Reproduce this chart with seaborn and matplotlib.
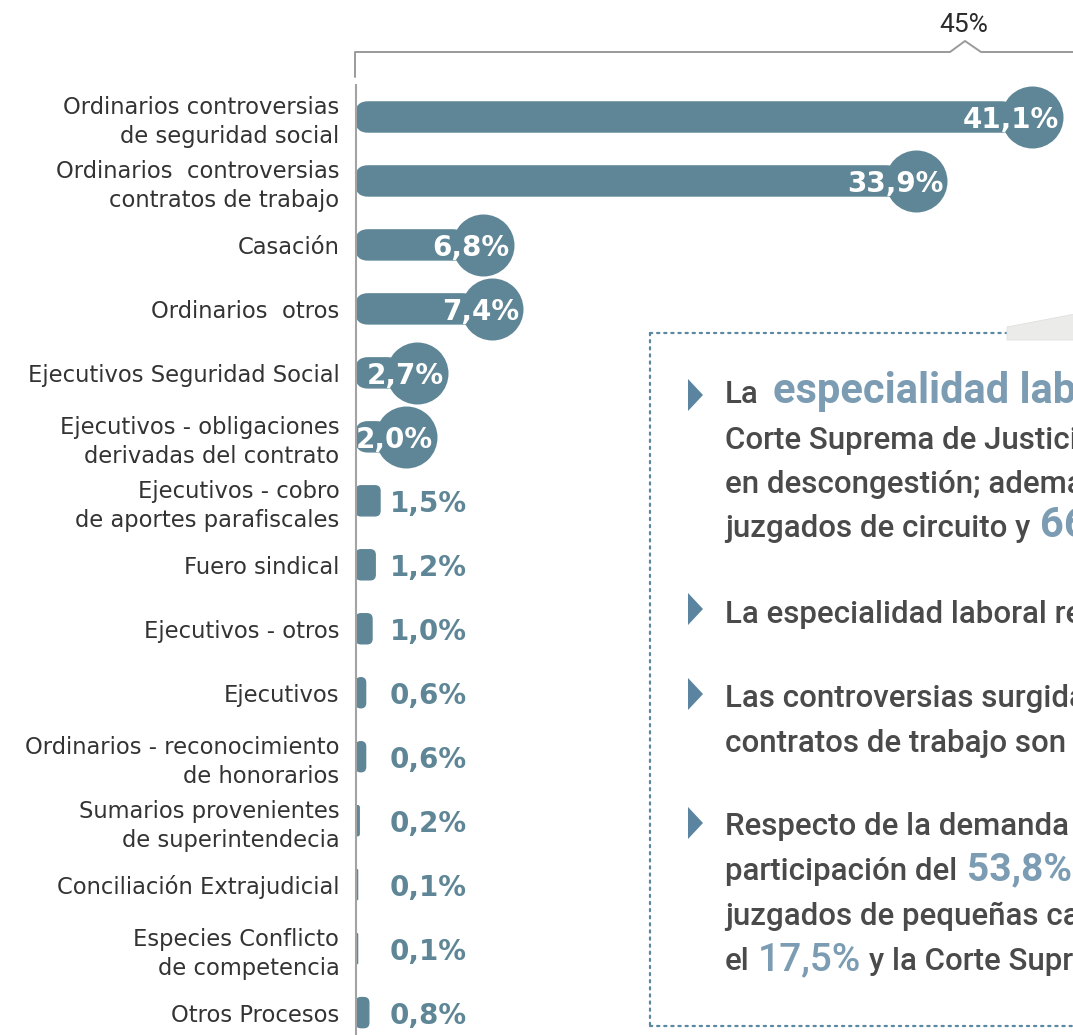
import numpy as np
import pandas as pd
import matplotlib
matplotlib.use("Agg")
import matplotlib.pyplot as plt
import seaborn as sns
from matplotlib.patches import FancyBboxPatch, Polygon, Rectangle
from matplotlib.lines import Line2D
from matplotlib.transforms import ScaledTranslation

# ---------------- data ----------------
categories = [
    "Ordinarios controversias\nde seguridad social",
    "Ordinarios  controversias\ncontratos de trabajo",
    "Casación",
    "Ordinarios  otros",
    "Ejecutivos Seguridad Social",
    "Ejecutivos - obligaciones\nderivadas del contrato",
    "Ejecutivos - cobro\nde aportes parafiscales",
    "Fuero sindical",
    "Ejecutivos - otros",
    "Ejecutivos",
    "Ordinarios - reconocimiento\nde honorarios",
    "Sumarios provenientes\nde superintendecia",
    "Conciliación Extrajudicial",
    "Especies Conflicto\nde competencia",
    "Otros Procesos",
]
values = [41.1, 33.9, 6.8, 7.4, 2.7, 2.0, 1.5, 1.2, 1.0, 0.6, 0.6, 0.2, 0.1, 0.1, 0.8]
axis_mark_label = "45%"

# ---------------- style ----------------
BAR = "#5e8696"
TEAL_TXT = "#7b9cb2"
DARK = "#4a4a4a"
LABEL = "#333333"
BULLET = "#5b84a0"

W, H = 1073, 1035
sns.set_theme(style="white")
plt.rcParams["font.family"] = ["DejaVu Sans"]

fig = plt.figure(figsize=(W / 100, H / 100), dpi=100)
fig.patch.set_facecolor("white")

def fx(px):
    return px / W

def fy(py):
    return 1 - py / H

ax = fig.add_axes([fx(356), 0, (W - 356) / W, 950 / H])

df = pd.DataFrame({"category": categories, "value": values})
sns.barplot(data=df, x="value", y="category", orient="h", color=BAR,
            saturation=1, width=0.47, ax=ax)

ax.set_xlim(0, (W - 356) / 16.0)
ax.set_ylim(14.35, -0.5)
ax.set_xlabel("")
ax.set_ylabel("")
ax.set_xticks([])
for s in ["top", "right", "bottom"]:
    ax.spines[s].set_visible(False)
ax.spines["left"].set_color("#a3a3a3")
ax.spines["left"].set_linewidth(1.5)
ax.tick_params(axis="y", length=0, pad=12, labelsize=16.3, labelcolor=LABEL)
for t in ax.get_yticklabels():
    t.set_linespacing(1.3)

# rounded bars
px_x = ax.transData.transform((1, 0))[0] - ax.transData.transform((0, 0))[0]
px_y = abs(ax.transData.transform((0, 1))[1] - ax.transData.transform((0, 0))[1])
aspect = px_x / px_y
patches = list(ax.patches)
for p, v in zip(patches, values):
    x0, y0, w, h = p.get_x(), p.get_y(), p.get_width(), p.get_height()
    r_px = 12 if v >= 2 else 5
    r = min(r_px / px_x, w / 2 * 0.999)
    p.remove()
    fb = FancyBboxPatch((x0, y0), w, h,
                        boxstyle=f"round,pad=0,rounding_size={r}",
                        mutation_aspect=aspect, fc=BAR, ec=BAR, lw=1.0, zorder=2)
    ax.add_patch(fb)

# circles + labels
big_idx = [i for i, v in enumerate(values) if v >= 2]
small_idx = [i for i, v in enumerate(values) if v < 2]
offset = ScaledTranslation(0.18, 0, fig.dpi_scale_trans)
ax.scatter([values[i] for i in big_idx], big_idx, s=(62 * 0.72) ** 2,
           color=BAR, linewidths=0, zorder=3, transform=ax.transData + offset,
           clip_on=False)

def fmt(v):
    return f"{v:.1f}".replace(".", ",") + "%"

for i in big_idx:
    ax.annotate(fmt(values[i]), xy=(values[i], i), xytext=(18 + 27, 0),
                textcoords="offset pixels", ha="right", va="center_baseline",
                color="white", fontweight="bold", fontsize=20, zorder=4)
for i in small_idx:
    ax.annotate(fmt(values[i]), xy=(0, i), xytext=(72, 0),
                textcoords="offset pixels", ha="center", va="center_baseline",
                color=BAR, fontweight="bold", fontsize=20, zorder=4)

# top bracket
fig.add_artist(Line2D([fx(355), fx(355), fx(950), fx(965), fx(981), fx(W + 5)],
                      [fy(77), fy(52), fy(52), fy(41), fy(52), fy(52)],
                      transform=fig.transFigure, color="#9a9a9a", lw=1.4))
fig.text(fx(964), fy(25), axis_mark_label, ha="center", va="center",
         fontsize=19, color="#2a2a2a", family=["Roboto", "DejaVu Sans"])

# text box
fig.add_artist(Rectangle((fx(650), fy(1026)), fx(W + 20) - fx(650), fy(333) - fy(1026),
                         transform=fig.transFigure, fc="white", ec="none", zorder=1))
dot = dict(transform=fig.transFigure, color="#5b87a0", lw=1.6,
           linestyle=(0, (1, 2.2)), dash_capstyle="round", zorder=2)
fig.add_artist(Line2D([fx(650), fx(650)], [fy(333), fy(1026)], **dot))
fig.add_artist(Line2D([fx(650), fx(1007)], [fy(333), fy(333)], **dot))
fig.add_artist(Line2D([fx(650), fx(W + 5)], [fy(1026), fy(1026)], **dot))
fig.add_artist(Polygon([(fx(1007), fy(327)), (fx(W + 2), fy(314)), (fx(W + 2), fy(340)),
                        (fx(1007), fy(340))], closed=True, transform=fig.transFigure,
                       fc="#ebebe9", ec="#e0e0de", lw=0.6, zorder=2))

for cy in [395, 609, 694, 823]:
    fig.add_artist(Polygon([(fx(688), fy(cy - 16)), (fx(703), fy(cy)), (fx(688), fy(cy + 16))],
                           closed=True, transform=fig.transFigure, fc=BULLET, ec="none",
                           zorder=3))

renderer = fig.canvas.get_renderer()
FAM = ["Roboto", "DejaVu Sans"]
reg = dict(fontsize=22.5, color=DARK, family=FAM, fontweight="medium")
hl = dict(fontsize=30, color=TEAL_TXT, family=FAM, fontweight="bold")
hl2 = dict(fontsize=28, color=TEAL_TXT, family=FAM, fontweight="bold")
hl3 = dict(fontsize=28, color=TEAL_TXT, family=FAM, fontweight="medium")

def run(parts, x, y):
    cur = x
    for s, kw, gap in parts:
        t = fig.text(fx(cur), fy(y), s, ha="left", va="baseline", zorder=4, **kw)
        bb = t.get_window_extent(renderer)
        cur = bb.x1 + gap

TX = 725
run([("La", reg, 14), ("especialidad laboral", hl, 0)], TX, 403)
run([("Corte Suprema de Justicia", reg, 0)], TX, 449)
run([("en descongestión; además", reg, 0)], TX, 493)
run([("juzgados de circuito y", reg, 10), ("66", hl, 0)], TX, 537)
run([("La especialidad laboral re", reg, 0)], TX, 623)
run([("Las controversias surgidas", reg, 0)], TX, 707)
run([("contratos de trabajo son", reg, 0)], TX, 752)
run([("Respecto de la demanda", reg, 0)], TX, 835)
run([("participación del", reg, 10), ("53,8%", hl2, 0), (",", reg, 0)], TX, 880)
run([("juzgados de pequeñas causas", reg, 0)], TX, 925)
run([("el", reg, 8), ("17,5%", hl3, 8), ("y la Corte Suprema", reg, 0)], TX, 970)

fig.savefig("out.png", dpi=100)
